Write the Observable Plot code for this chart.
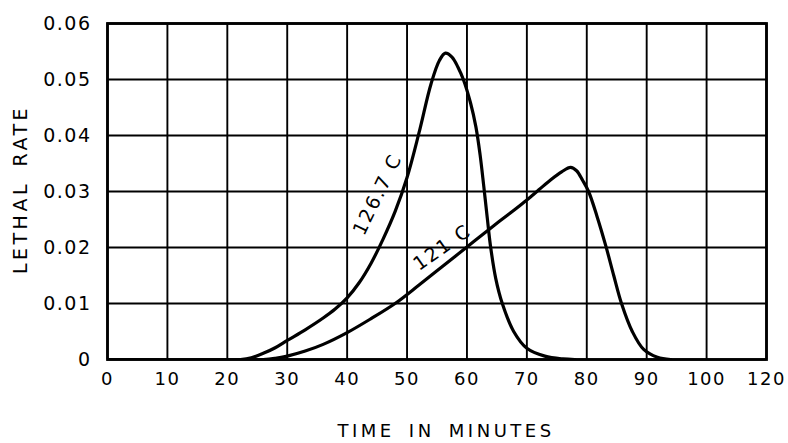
<!DOCTYPE html>
<html>
<head>
<meta charset="utf-8">
<script src="https://cdn.jsdelivr.net/npm/d3@7"></script>
<script src="https://cdn.jsdelivr.net/npm/@observablehq/plot@0.6"></script>
<style>
  html, body { margin: 0; padding: 0; background: #fff; }
  svg text { letter-spacing: 1.5px; }
  g.title text { letter-spacing: 3.5px; word-spacing: 5px; }
  g.curvelabel text { letter-spacing: 2px; }
</style>
</head>
<body>
<div id="chart"></div>
<script>
// Tick positions and labels (the original's last column is labelled 120)
const xTicks = [0, 10, 20, 30, 40, 50, 60, 70, 80, 90, 100, 110];
const xTickLabels = ["0", "10", "20", "30", "40", "50", "60", "70", "80", "90", "100", "120"];
const yTicks = [0, 0.01, 0.02, 0.03, 0.04, 0.05, 0.06];
const yTickLabels = ["0", "0.01", "0.02", "0.03", "0.04", "0.05", "0.06"];

// Curve 126.7 C
const t126 = [0, 22.2, 24, 26, 28, 30, 33, 36, 38, 40, 42, 44, 46, 48, 50, 52, 54, 55.4, 56.4, 57.5, 58.5, 59.4, 60.6, 61.5, 62.2, 62.8, 63.4, 63.9, 64.8, 65.9, 67.8, 70, 73, 76, 78];
const r126 = [0, 0, 0.0003, 0.0011, 0.0021, 0.0034, 0.0053, 0.0074, 0.0090, 0.0110, 0.0137, 0.0172, 0.0215, 0.0264, 0.0325, 0.0405, 0.0492, 0.0534, 0.0547, 0.0540, 0.0522, 0.0500, 0.0458, 0.0415, 0.0365, 0.0310, 0.0252, 0.0205, 0.0145, 0.0100, 0.0050, 0.0020, 0.0006, 0.0001, 0];

// Curve 121 C
const t121 = [0, 26, 28, 30, 33, 36, 40, 44, 48, 52, 56, 60, 64, 68, 70, 72, 74, 75.8, 77.3, 78.3, 79.3, 80.3, 81.7, 83.2, 84.5, 85.8, 87.6, 89.5, 91.8, 94];
const r121 = [0, 0, 0.0002, 0.0006, 0.0015, 0.0027, 0.0048, 0.0073, 0.0100, 0.0133, 0.0167, 0.0201, 0.0235, 0.0268, 0.0285, 0.0303, 0.0321, 0.0335, 0.0343, 0.0337, 0.0320, 0.0300, 0.0256, 0.0202, 0.0150, 0.0100, 0.0050, 0.0018, 0.0004, 0];

const curveNames = ["126.7 C", "121 C"];
const labelX = [45.1, 55.9];
const labelY = [0.0295, 0.0200];
const labelAngle = [-64, -35];

const xTitle = "TIME IN MINUTES";
const yTitle = "LETHAL RATE";

const d126 = t126.map((t, i) => ({t, r: r126[i]}));
const d121 = t121.map((t, i) => ({t, r: r121[i]}));
const labels = curveNames.map((name, i) => ({name, x: labelX[i], y: labelY[i], a: labelAngle[i]}));

const chart = Plot.plot({
  width: 788,
  height: 443,
  marginLeft: 107,
  marginRight: 22,
  marginTop: 23,
  marginBottom: 84,
  style: {fontFamily: "DejaVu Sans", fontSize: "18px", color: "#000", background: "#fff"},
  x: {domain: [0, 110]},
  y: {domain: [0, 0.06]},
  marks: [
    Plot.gridX(xTicks, {stroke: "#000", strokeOpacity: 1, strokeWidth: 1.9}),
    Plot.gridY(yTicks, {stroke: "#000", strokeOpacity: 1, strokeWidth: 1.9}),
    Plot.frame({stroke: "#000", strokeWidth: 2.8}),
    Plot.line(d126, {x: "t", y: "r", curve: "catmull-rom", stroke: "#000", strokeWidth: 3.2, clip: true}),
    Plot.line(d121, {x: "t", y: "r", curve: "catmull-rom", stroke: "#000", strokeWidth: 3.2, clip: true}),
    Plot.text(labels, {x: "x", y: "y", text: "name", rotate: "a", fontSize: 19, fill: "#000", className: "curvelabel"}),
    Plot.axisX(xTicks, {tickSize: 0, tickPadding: 13, tickFormat: (d, i) => xTickLabels[i], fontSize: 18, label: null}),
    Plot.axisY(yTicks, {tickSize: 0, tickPadding: 16, tickFormat: (d, i) => yTickLabels[i], fontSize: 19, label: null}),
    Plot.text([xTitle], {frameAnchor: "bottom", text: d => d, lineAnchor: "middle", dy: 72, dx: 9, fontSize: 18, className: "title"}),
    Plot.text([yTitle], {frameAnchor: "left", text: d => d, lineAnchor: "middle", textAnchor: "middle", rotate: -90, dx: -87, dy: -2, fontSize: 19, className: "title"})
  ]
});
document.getElementById("chart").appendChild(chart);
</script>
</body>
</html>
